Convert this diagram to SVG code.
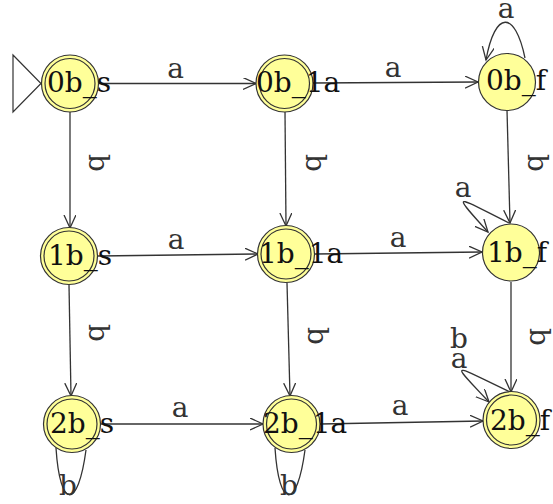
<svg xmlns="http://www.w3.org/2000/svg" width="553" height="504" viewBox="0 0 553 504">
<style>
.n{fill:#ffff99;stroke:#333;stroke-width:1.2}
.in{fill:none;stroke:#333;stroke-width:1.2}
.t{font-family:"DejaVu Serif",serif;font-size:28px;fill:#111}
.l{font-family:"DejaVu Serif",serif;font-size:28px;fill:#333;text-anchor:middle}
.e{fill:none;stroke:#333;stroke-width:1.3}
</style>
<defs>
<marker id="ar" markerUnits="userSpaceOnUse" markerWidth="16" markerHeight="14" refX="13" refY="6" orient="auto">
<path d="M0,0 L13,6 L0,12" fill="none" stroke="#333" stroke-width="1.3"/>
</marker>
</defs>
<g id="connectors">
<path class="e" d="M99,83.5 L256,83.5" marker-end="url(#ar)"/>
<path class="e" d="M313,83 L478,82" marker-end="url(#ar)"/>
<path class="e" d="M525,58 C515,10 495,10 486,60" marker-end="url(#ar)"/>
<path class="e" d="M70,112 L70,228" marker-end="url(#ar)"/>
<path class="e" d="M285,112 L286,226" marker-end="url(#ar)"/>
<path class="e" d="M507,110 L510,223" marker-end="url(#ar)"/>
<path class="e" d="M98,256 L258,254" marker-end="url(#ar)"/>
<path class="e" d="M315,254 L482,252" marker-end="url(#ar)"/>
<path class="e" d="M509,223 C455,196 450,190 488,232" marker-end="url(#ar)"/>
<path class="e" d="M69,285 L71,396" marker-end="url(#ar)"/>
<path class="e" d="M287,283 L290,396" marker-end="url(#ar)"/>
<path class="e" d="M511,282 L511,392" marker-end="url(#ar)"/>
<path class="e" d="M510,392 C453,365 447,358 489,402" marker-end="url(#ar)"/>
<path class="e" d="M101,424 L263,424" marker-end="url(#ar)"/>
<path class="e" d="M320,424 L483,421" marker-end="url(#ar)"/>
<path class="e" d="M56,448 C60,510 78,510 86,450"/>
<path class="e" d="M275,448 C279,510 297,510 305,450"/>
<text class="l" x="175.5" y="78">a</text>
<text class="l" x="393" y="77">a</text>
<text class="l" x="506" y="18">a</text>
<text class="l" x="176" y="249">a</text>
<text class="l" x="398" y="247">a</text>
<text class="l" x="463" y="197">a</text>
<text class="l" x="180" y="417">a</text>
<text class="l" x="400" y="415">a</text>
<text class="l" x="459" y="348">b</text>
<text class="l" x="459" y="368">a</text>
<text class="l" x="68" y="495">b</text>
<text class="l" x="289" y="495">b</text>
<text class="l" x="0" y="10" transform="translate(99,163) rotate(90)">b</text>
<text class="l" x="0" y="10" transform="translate(316,163) rotate(90)">b</text>
<text class="l" x="0" y="10" transform="translate(538,163) rotate(90)">b</text>
<text class="l" x="0" y="10" transform="translate(99,333) rotate(90)">b</text>
<text class="l" x="0" y="10" transform="translate(318,336) rotate(90)">b</text>
<text class="l" x="0" y="10" transform="translate(540,337) rotate(90)">b</text>
</g>
<g id="start"><path d="M13,55 L41,83.5 L13,112 Z" fill="none" stroke="#333" stroke-width="1.2"/></g>
<g id="n0b_s"><circle class="n" cx="70" cy="83.5" r="28.5"/><circle class="in" cx="70" cy="83.5" r="25"/><text class="t" x="47" y="92">0b_s</text></g>
<g id="n0b_1a"><circle class="n" cx="284.5" cy="83.5" r="28.5"/><circle class="in" cx="284.5" cy="83.5" r="25"/><text class="t" x="256" y="92">0b_1a</text></g>
<g id="n0b_f"><circle class="n" cx="507" cy="82" r="28.5"/><text class="t" x="486" y="90">0b_f</text></g>
<g id="n1b_s"><circle class="n" cx="69" cy="256" r="28.5"/><circle class="in" cx="69" cy="256" r="25"/><text class="t" x="48" y="265">1b_s</text></g>
<g id="n1b_1a"><circle class="n" cx="286" cy="254" r="28.5"/><circle class="in" cx="286" cy="254" r="25"/><text class="t" x="259" y="263">1b_1a</text></g>
<g id="n1b_f"><circle class="n" cx="511" cy="252.5" r="28.5"/><text class="t" x="487" y="262">1b_f</text></g>
<g id="n2b_s"><circle class="n" cx="72" cy="424" r="28.5"/><circle class="in" cx="72" cy="424" r="25"/><text class="t" x="50" y="433">2b_s</text></g>
<g id="n2b_1a"><circle class="n" cx="291.5" cy="424" r="28.5"/><circle class="in" cx="291.5" cy="424" r="25"/><text class="t" x="263" y="433">2b_1a</text></g>
<g id="n2b_f"><circle class="n" cx="511.5" cy="420" r="28.5"/><circle class="in" cx="511.5" cy="420" r="25"/><text class="t" x="490" y="430">2b_f</text></g>
</svg>
